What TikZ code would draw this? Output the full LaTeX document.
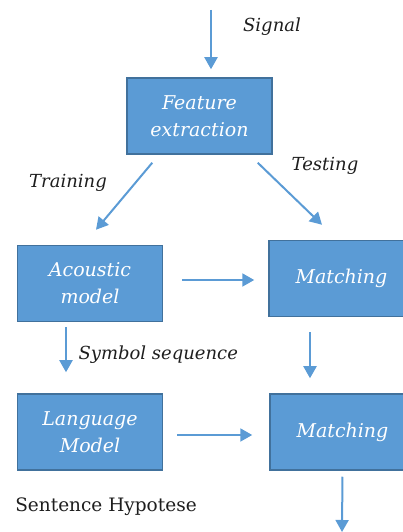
\documentclass[tikz,border=0pt]{standalone}
\usepackage{fontspec}
\setmainfont{DejaVu Serif}
\usetikzlibrary{positioning,arrows.meta,calc}
\definecolor{BoxBlue}{RGB}{91,155,213}
\definecolor{EdgeBlue}{RGB}{65,113,156}
\definecolor{LabelGrey}{RGB}{30,30,30}
\tikzset{
  flow/.style={-{Triangle[length=12pt,width=13pt]},line width=2pt,draw=BoxBlue},
  box/.style={draw=EdgeBlue,fill=BoxBlue,line width=1.5pt,text=white,
    minimum width=145pt,minimum height=76pt,inner sep=0pt,align=center,
    font=\fontsize{19}{27}\selectfont\itshape},
  lbl/.style={text=LabelGrey,font=\fontsize{18}{22}\selectfont\itshape}
}
\begin{document}
\begin{tikzpicture}[x=1pt,y=1pt]
  \useasboundingbox (0,0) rectangle (403,532);
  \node[box] (feature) at (199.5,416) {Feature\\extraction};
  \node[box] (acoustic) at (90,248.5) {Acoustic\\model};
  \node[box] (match1) at (341.5,253.5) {Matching};
  \node[box] (language) at (90,100) {Language\\Model};
  \node[box] (match2) at (342.5,100) {Matching};
  \coordinate (in) at (211,522);
  \coordinate (out) at (342,0);
  \node[lbl] (signal) at (272,505) {Signal};
  \node[lbl] (training) at (68,349) {Training};
  \node[lbl] (testing) at (325,366) {Testing};
  \node[lbl,anchor=west] (symbols) at (75,177) {Symbol sequence};
  \node[text=LabelGrey,font=\fontsize{18.5}{22}\selectfont] (hypo) at (106,25) {Sentence Hypotese};
  \draw[flow,shorten >=8pt] (in) -- (in |- feature.north);
  \draw[flow] ([xshift=26pt,yshift=-8pt]feature.south west) -- ([xshift=6pt,yshift=15pt]acoustic.north);
  \draw[flow] ([xshift=-15pt,yshift=-8pt]feature.south east) -- ([xshift=-19.5pt,yshift=15pt]match1.north);
  \draw[flow,shorten <=19pt,shorten >=14pt] ([yshift=3.5pt]acoustic.east) -- ([yshift=3.5pt]acoustic.east -| match1.west);
  \draw[flow,shorten <=5pt,shorten >=21pt] ([xshift=-24pt]acoustic.south) -- ([xshift=-24pt]language.north);
  \draw[flow,shorten <=15pt,shorten >=15pt] ([xshift=-31.5pt]match1.south) -- ([xshift=-32.5pt]match2.north);
  \draw[flow,shorten <=14pt,shorten >=17pt] ([yshift=-3pt]language.east) -- ([yshift=-3pt]language.east -| match2.west);
  \draw[flow,shorten <=6pt] (match2.south) -- (out);
\end{tikzpicture}
\end{document}
